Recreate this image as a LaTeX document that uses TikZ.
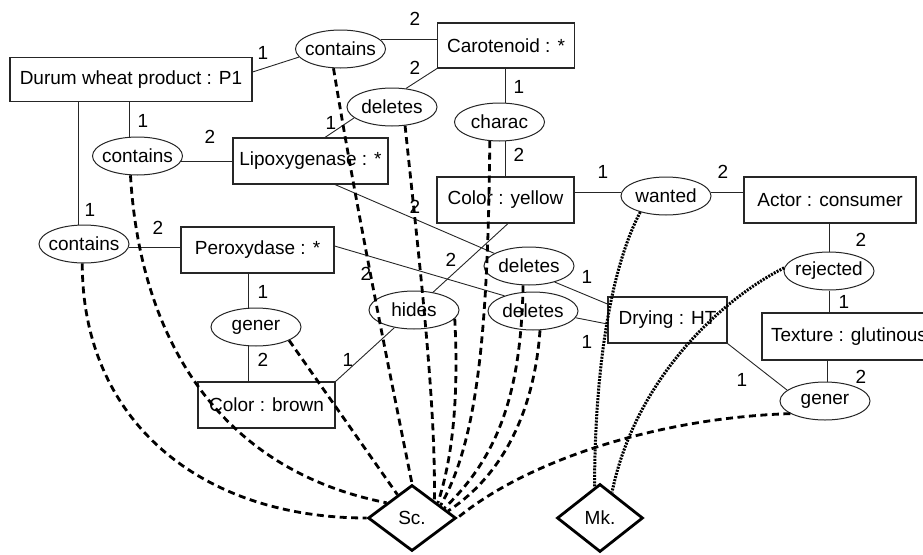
\documentclass[tikz,border=0pt]{standalone}
\usepackage{fontspec}
\setmainfont{Liberation Sans}
\usetikzlibrary{shapes.geometric}
\begin{document}
\begin{tikzpicture}[x=1pt,y=-1pt,
  every node/.style={font=\fontsize{19}{23}\selectfont},
  cbox/.style={draw=black!85, line width=1.1pt, fill=white, inner sep=0pt, minimum height=46pt},
  rel/.style={draw=black!85, line width=1pt, fill=white, ellipse, minimum width=90pt, minimum height=38pt, inner xsep=-8pt, inner ysep=0pt},
  dia/.style={draw=black, line width=2.8pt, fill=white, diamond, inner sep=0pt, minimum width=88pt, minimum height=66pt},
  conn/.style={draw=black!85, line width=0.9pt},
  lbl/.style={inner sep=0pt},
  scl/.style={line width=2.8pt, dash pattern=on 7pt off 4.5pt},
  mkl/.style={line width=3pt, dash pattern=on 2pt off 1.2pt},
]
\useasboundingbox (0,0) rectangle (923,554);

% concept boxes
\node[cbox, minimum width=242pt, minimum height=44pt] (durum) at (131,79.5) {Durum wheat product : P1};
\node[cbox, minimum width=137pt, minimum height=45pt] (carot) at (506,45.5) {Carotenoid : *};
\node[cbox, minimum width=155pt] (lipox) at (310.5,161) {Lipoxygenase : *};
\node[cbox, minimum width=153pt] (perox) at (257.5,250) {Peroxydase : *};
\node[cbox, minimum width=137pt] (yellow) at (505.5,200) {Color : yellow};
\node[cbox, minimum width=172pt] (actor) at (830,200) {Actor : consumer};
\node[cbox, minimum width=119pt] (drying) at (667.5,320) {Drying : HT};
\node[cbox, minimum width=174pt, minimum height=47pt] (texture) at (849,336.5) {Texture : glutinous};
\node[cbox, minimum width=137pt] (brown) at (266.5,405) {Color : brown};

% relation ellipses
\node[rel] (c1) at (340.5,49) {contains};
\node[rel] (d1) at (392,107) {deletes};
\node[rel] (ch) at (499.5,122) {charac};
\node[rel] (c2) at (137.5,156) {contains};
\node[rel] (c3) at (84,244) {contains};
\node[rel] (g1) at (256,327) {gener};
\node[rel] (hi) at (414,310) {hides};
\node[rel] (d2) at (529,266) {deletes};
\node[rel] (d3) at (533,311) {deletes};
\node[rel] (wa) at (666,196) {wanted};
\node[rel] (rj) at (829,271) {rejected};
\node[rel] (g2) at (825,401) {gener};

% diamonds
\node[dia] (sc) at (412,518) {Sc.};
\node[dia, minimum width=86pt, minimum height=68pt] (mk) at (600,518) {Mk.};

% solid connectors
\draw[conn] ([yshift=7.5pt]durum.east) -- (c1.191);
\draw[conn] (c1.13) -- (c1.13 -| carot.west);
\draw[conn] (carot.south west) -- (d1.53);
\draw[conn] ([xshift=14.5pt]lipox.north) -- (d1.196);
\draw[conn] (c2.112 |- durum.south) -- (c2.112);
\draw[conn] (c2.-7) -- (c2.-7 -| lipox.west);
\draw[conn] (c3.105 |- durum.south) -- (c3.105);
\draw[conn] (c3.-5) -- (c3.-5 -| perox.west);
\draw[conn] (g1.111 |- perox.south) -- (g1.111);
\draw[conn] (g1.249) -- (g1.249 |- brown.north);
\draw[conn] (brown.north east) -- (hi.222);
\draw[conn] (hi.43) -- ([xshift=2.5pt]yellow.south);
\draw[conn] ([xshift=24.5pt]lipox.south) -- (d2.160);
\draw[conn] ([yshift=4pt]perox.east) -- (d3.152);
\draw[conn] (d2.-32) -- ([yshift=16pt]drying.west);
\draw[conn] (d3.-9) -- ([yshift=-4pt]drying.west);
\draw[conn] (ch.74 |- carot.south) -- (ch.74);
\draw[conn] (ch.286) -- (ch.286 |- yellow.north);
\draw[conn] (wa.176) -- (wa.176 -| yellow.east);
\draw[conn] (wa.4) -- (wa.4 -| actor.west);
\draw[conn] (rj.north |- actor.south) -- (rj.north);
\draw[conn] (rj.south) -- (rj.south |- texture.north);
\draw[conn] (g2.84 |- texture.south) -- (g2.84);
\draw[conn] (drying.south east) -- (g2.164);

% role labels
\node[lbl] (l01) at (263,53) {1};
\node[lbl] (l02) at (415,19) {2};
\node[lbl] (l03) at (415,68) {2};
\node[lbl] (l04) at (331,123) {1};
\node[lbl] (l05) at (143,121) {1};
\node[lbl] (l06) at (210,137) {2};
\node[lbl] (l07) at (90,210) {1};
\node[lbl] (l08) at (158,228) {2};
\node[lbl] (l09) at (263,292) {1};
\node[lbl] (l10) at (263,360) {2};
\node[lbl] (l11) at (348,360) {1};
\node[lbl] (l12) at (451,260) {2};
\node[lbl] (l13) at (415,207) {2};
\node[lbl] (l14) at (366,274) {2};
\node[lbl] (l15) at (587,277) {1};
\node[lbl] (l16) at (587,342) {1};
\node[lbl] (l17) at (519,87) {1};
\node[lbl] (l18) at (519,155) {2};
\node[lbl] (l19) at (603,172) {1};
\node[lbl] (l20) at (723,172) {2};
\node[lbl] (l21) at (861,240) {2};
\node[lbl] (l22) at (844,302) {1};
\node[lbl] (l23) at (861,377) {2};
\node[lbl] (l24) at (742,380) {1};

% dashed links to Sc.
\draw[scl] (c3.265) .. controls (82,420) and (200,518) .. (sc.west);
\draw[scl] (c2.250) .. controls (140,340) and (220,470) .. (sc.149);
\draw[scl] (g1.-22) -- (sc.122);
\draw[scl] (c1.250) .. controls (355,200) and (385,350) .. (sc.north);
\draw[scl] (d1.-55) .. controls (418,250) and (436,400) .. (sc.38);
\draw[scl] (hi.-12) .. controls (459,400) and (452,460) .. (sc.30);
\draw[scl] (ch.243) .. controls (488,330) and (478,440) .. (sc.24);
\draw[scl] (d2.253) .. controls (521,390) and (500,455) .. (sc.17);
\draw[scl] (d3.290) .. controls (535,400) and (510,470) .. (sc.11);
\draw[scl] (g2.200) .. controls (655,418) and (525,462) .. (sc.east);

% dotted links to Mk.
\draw[mkl] (wa.212) .. controls (615,260) and (595,350) .. (mk.100);
\draw[mkl] (rj.176) .. controls (720,300) and (635,380) .. (mk.65);
\end{tikzpicture}
\end{document}
